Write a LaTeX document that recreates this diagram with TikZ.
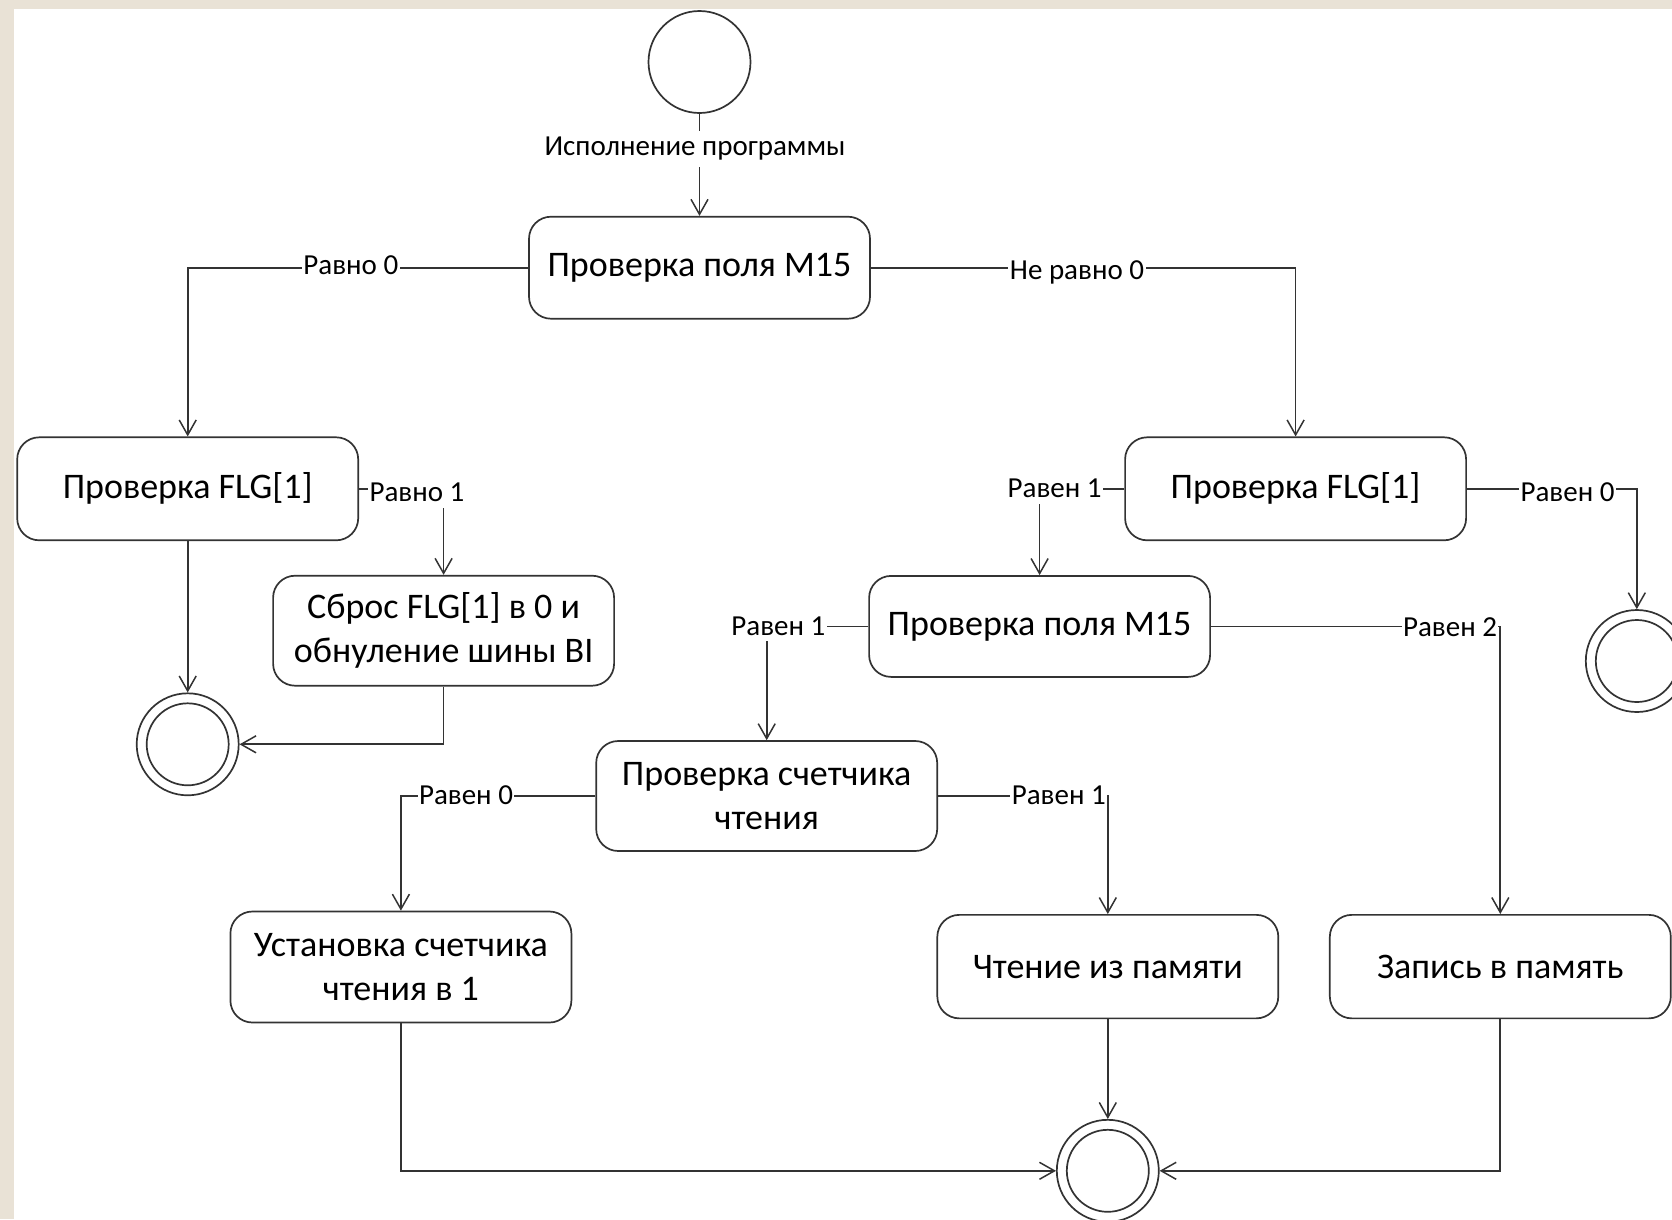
\documentclass[tikz,border=0pt]{standalone}
\usepackage{fontspec}
\setmainfont{Carlito}
\usetikzlibrary{arrows.meta}
\definecolor{beige}{HTML}{E9E2D6}
\definecolor{ink}{HTML}{333333}
\begin{document}
\begin{tikzpicture}[x=1pt,y=-1pt,
  ln/.style={line width=1.7pt, draw=ink},
  arr/.style={ln, -{Straight Barb[length=15pt,width=17pt,line width=1.5pt]}},
  box/.style={ln, rectangle, rounded corners=22pt, minimum width=341pt, inner sep=0pt, align=center, font=\fontsize{36}{44}\selectfont},
  lbl/.style={fill=white, inner xsep=1.5pt, inner ysep=6pt, font=\fontsize{29}{34}\selectfont},
  startc/.style={ln, circle, minimum size=102pt, inner sep=0pt},
  endc/.style={ln, circle, minimum size=102pt, inner sep=0pt},
]
\useasboundingbox (0,0) rectangle (1672,1219);
\fill[beige] (0,0) rectangle (1672,1219);
\fill[white] (14,9) rectangle (1672,1219);

% nodes
\node[startc] (S) at (699.5,62) {};
\node[box, minimum height=102pt] (A) at (699.5,267.7) {Проверка поля M15};
\node[box, minimum height=103pt] (B) at (187.7,488.8) {Проверка FLG[1]};
\node[box, minimum height=103pt] (C) at (1295.6,488.8) {Проверка FLG[1]};
\node[box, minimum height=110pt] (D) at (443.6,630.7) {Сброс FLG[1] в 0 и\\обнуление шины BI};
\node[box, minimum height=101pt] (E) at (1039.6,626.4) {Проверка поля M15};
\node[box, minimum height=110pt] (G) at (766.7,796) {Проверка счетчика\\чтения};
\node[box, minimum height=111pt] (H) at (400.9,967) {Установка счетчика\\чтения в 1};
\node[box, minimum height=103.5pt] (J) at (1107.8,966.6) {Чтение из памяти};
\node[box, minimum height=103.5pt] (I) at (1500.3,966.6) {Запись в память};
\node[endc] (F1) at (187.7,744.3) {};
\node[endc] (F2) at (1636.8,661) {};
\node[endc] (F3) at (1107.8,1170.8) {};
\foreach \f in {F1,F2,F3} \draw[ln] (\f.center) circle[radius=41];

% connectors
\draw[arr] (S) -- (A);
\draw[arr] (A.west) -| (B.north);
\draw[arr] (A.east) -| (C.north);
\draw[arr] (B.east) -| (D.north);
\draw[arr] (B) -- (F1);
\draw[arr] (D.south) |- (F1.east);
\draw[arr] (C.west) -| (E.north);
\draw[arr] (C.east) -| (F2.north);
\draw[arr] (E.west) -| (G.north);
\draw[arr] (E.east) -| (I.north);
\draw[arr] (G.west) -| (H.north);
\draw[arr] (G.east) -| (J.north);
\draw[arr] (H.south) |- (F3.west);
\draw[arr] (J) -- (F3);
\draw[arr] (I.south) |- (F3.east);

% labels
\node[lbl] (l0) at (695,149) {Исполнение программы};
\node[lbl] (l1) at (350.8,265) {Равно 0};
\node[lbl] (l2) at (1077,272) {Не равно 0};
\node[lbl] (l3) at (417,492.6) {Равно 1};
\node[lbl] (l4) at (1054.6,488.4) {Равен 1};
\node[lbl] (l5) at (1567.5,492.6) {Равен 0};
\node[lbl] (l6) at (778.4,626) {Равен 1};
\node[lbl] (l7) at (1450,627) {Равен 2};
\node[lbl] (l8) at (466,795.5) {Равен 0};
\node[lbl] (l9) at (1058.8,795.5) {Равен 1};
\end{tikzpicture}
\end{document}
